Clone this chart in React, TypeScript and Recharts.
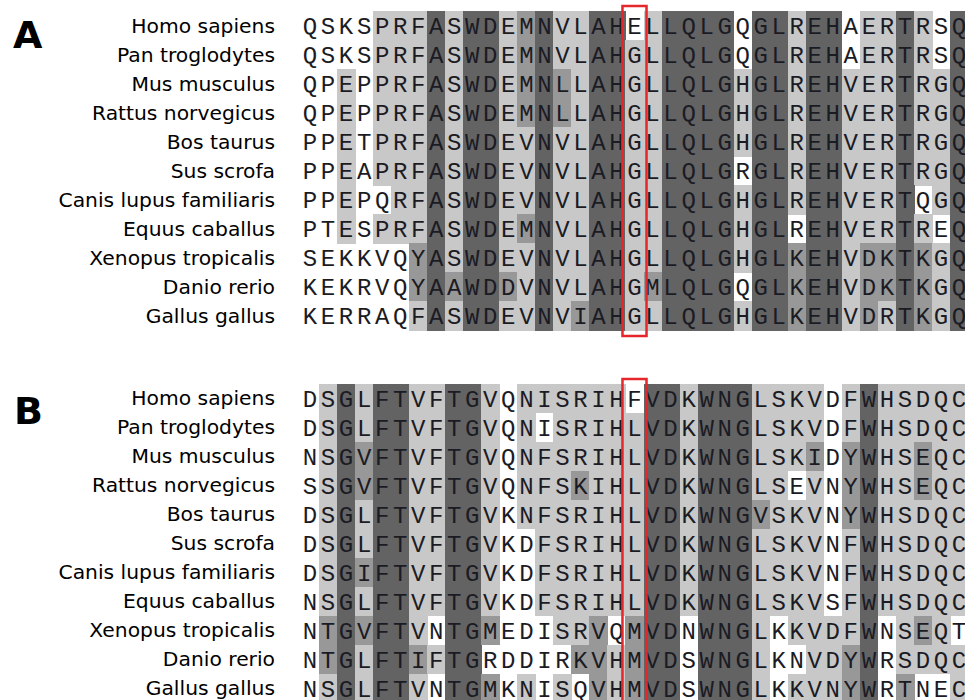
import React from 'react';
import { ScatterChart, Scatter, XAxis, YAxis } from 'recharts';

const SPECIES = [
  'Homo sapiens',
  'Pan troglodytes',
  'Mus musculus',
  'Rattus norvegicus',
  'Bos taurus',
  'Sus scrofa',
  'Canis lupus familiaris',
  'Equus caballus',
  'Xenopus tropicalis',
  'Danio rerio',
  'Gallus gallus',
];

const SEQ_A = [
  'QSKSPRFASWDEMNVLAHELLQLGQGLREHAERTRSQ',
  'QSKSPRFASWDEMNVLAHGLLQLGQGLREHAERTRSQ',
  'QPEPPRFASWDEMNLLAHGLLQLGHGLREHVERTRGQ',
  'QPEPPRFASWDEMNLLAHGLLQLGHGLREHVERTRGQ',
  'PPETPRFASWDEVNVLAHGLLQLGHGLREHVERTRGQ',
  'PPEAPRFASWDEVNVLAHGLLQLGRGLREHVERTRGQ',
  'PPEPQRFASWDEVNVLAHGLLQLGHGLREHVERTQGQ',
  'PTESPRFASWDEMNVLAHGLLQLGHGLREHVERTREQ',
  'SEKKVQYASWDEVNVLAHGLLQLGHGLKEHVDKTKGQ',
  'KEKRVQYAAWDDVNVLAHGMLQLGQGLKEHVDKTKGQ',
  'KERRAQFASWDEVNVIAHGLLQLGHGLKEHVDRTKGQ',
];

// conservation shading: 0 none, 1 light, 2 medium, 3 dark
const SHADE_A = [
  '0000111313' + '3123113301' + '3333033133' + '0113103',
  '0000111313' + '3123113311' + '3333033133' + '0113103',
  '0010111313' + '3123213311' + '3333133133' + '1113113',
  '0010111313' + '3123213311' + '3333133133' + '1113113',
  '0010111313' + '3113113311' + '3333133133' + '1113113',
  '0010111313' + '3113113311' + '3333033133' + '1113113',
  '0010011313' + '3113113311' + '3333133133' + '1113013',
  '0010111313' + '3123113311' + '3333133033' + '1113103',
  '0000002313' + '3113113311' + '3333133233' + '1223213',
  '0000002323' + '3213113312' + '3333033233' + '1223213',
  '0000001313' + '3113123311' + '3333133233' + '1213213',
];

const SEQ_B = [
  'DSGLFTVFTGVQNISRIHFVDKWNGLSKVDFWHSDQC',
  'DSGLFTVFTGVQNISRIHLVDKWNGLSKVDFWHSDQC',
  'NSGVFTVFTGVQNFSRIHLVDKWNGLSKIDYWHSEQC',
  'SSGVFTVFTGVQNFSKIHLVDKWNGLSEVNYWHSEQC',
  'DSGLFTVFTGVKNFSRIHLVDKWNGVSKVNYWHSDQC',
  'DSGLFTVFTGVKDFSRIHLVDKWNGLSKVNFWHSDQC',
  'DSGIFTVFTGVKDFSRIHLVDKWNGLSKVNFWHSDQC',
  'NSGLFTVFTGVKDFSRIHLVDKWNGLSKVSFWHSDQC',
  'NTGVFTVNTGMEDISRVQMVDNWNGLKKVDFWNSEQT',
  'NTGLFTIFTGRDDIRKVHMVDSWNGLKNVDYWRSDQC',
  'NSGLFTVNTGMKNISQVHMVDSWNGLKKVNYWRTNEC',
];

const SHADE_B = [
  '0131331133' + '1011111103' + '3133311110' + '1311111',
  '0131331133' + '1010111113' + '3133311110' + '1311111',
  '0132331133' + '1011111113' + '3133311120' + '2311211',
  '0132331133' + '1011121113' + '3133311010' + '2311211',
  '0131331133' + '1011111113' + '3133321110' + '2311111',
  '0131331133' + '1001111113' + '3133311110' + '1311111',
  '0132331133' + '1001111113' + '3133311110' + '1311111',
  '0131331133' + '1001111113' + '3133311110' + '1311111',
  '0232331033' + '2000112023' + '3033310111' + '1301210',
  '0231332133' + '0000022123' + '3033310011' + '2301111',
  '0131331033' + '2010102123' + '3033310111' + '2302001',
];

const MARKED_POSITION = 18;
const PANEL_LABELS = ['A', 'B'];

const SHADE_COLORS = ['#ffffff', '#c8c8c8', '#989898', '#636363'];
const CELL_W = 18.03;
const CELL_H = 29;

type Cell = { col: number; row: number; ch: string; level: number };

function buildCells(seqs: string[], shades: string[]): Cell[] {
  const out: Cell[] = [];
  seqs.forEach((s, row) => {
    s.split('').forEach((ch, col) => {
      out.push({ col, row, ch, level: Number(shades[row][col]) });
    });
  });
  return out;
}

const CellShape = (props: any) => {
  const { cx, cy, payload } = props;
  if (cx == null || cy == null || !payload) return <g />;
  const level = payload.level;
  return (
    <g>
      {level > 0 && (
        <rect
          x={cx - CELL_W / 2}
          y={cy - CELL_H / 2}
          width={CELL_W + 0.6}
          height={CELL_H + 0.6}
          fill={SHADE_COLORS[level]}
          shapeRendering="crispEdges"
        />
      )}
      <text
        x={cx}
        y={cy + 8.5}
        textAnchor="middle"
        fontFamily="'Liberation Mono', monospace"
        fontSize={24}
        fill="#1b1b24"
      >
        {payload.ch}
      </text>
    </g>
  );
};

// the highlight frame is anchored to the first row of the marked column
const makeRedBox = (extTop: number, extBottom: number) => (p: any) => {
  const { cx, cy } = p;
  if (cx == null || cy == null) return <g />;
  return (
    <rect
      x={cx - CELL_W / 2 - 3}
      y={cy - CELL_H / 2 - extTop}
      width={CELL_W + 6}
      height={CELL_H * SPECIES.length + extTop + extBottom}
      fill="none"
      stroke="#e5262a"
      strokeWidth={2.5}
    />
  );
};

const ROW_TICKS = SPECIES.map((_, i) => i);

function Panel({
  cells,
  height,
  marginTop,
  marginBottom,
  boxTop,
  boxBottom,
}: {
  cells: Cell[];
  height: number;
  marginTop: number;
  marginBottom: number;
  boxTop: number;
  boxBottom: number;
}) {
  const marker = [{ col: MARKED_POSITION, row: 0 }];
  return (
    <ScatterChart
      width={968}
      height={height}
      margin={{ top: marginTop, right: 0, bottom: marginBottom, left: 0 }}
    >
      <XAxis
        type="number"
        dataKey="col"
        domain={[-0.5, 36.5]}
        hide
        allowDataOverflow
      />
      <YAxis
        type="number"
        dataKey="row"
        domain={[-0.5, SPECIES.length - 0.5]}
        ticks={ROW_TICKS}
        reversed
        width={301}
        axisLine={false}
        tickLine={false}
        tickSize={0}
        tickMargin={26}
        interval={0}
        tickFormatter={(v: number) => SPECIES[v] ?? ''}
        tick={{
          fontFamily: "'DejaVu Sans', sans-serif",
          fontSize: 20.3,
          fill: '#000',
        }}
      />
      <Scatter data={cells} shape={CellShape} isAnimationActive={false} />
      <Scatter
        data={marker}
        shape={makeRedBox(boxTop, boxBottom)}
        isAnimationActive={false}
      />
    </ScatterChart>
  );
}

export default function App() {
  const cellsA = buildCells(SEQ_A, SHADE_A);
  const cellsB = buildCells(SEQ_B, SHADE_B);
  return (
    <div
      style={{
        position: 'relative',
        width: 965,
        height: 700,
        overflow: 'hidden',
        background: '#fff',
      }}
    >
      <style>{'body{margin:0;}'}</style>
      <div style={{ position: 'absolute', left: 0, top: 0 }}>
        <Panel
          cells={cellsA}
          height={345}
          marginTop={11}
          marginBottom={15}
          boxTop={5}
          boxBottom={6}
        />
      </div>
      <div style={{ position: 'absolute', left: 0, top: 345 }}>
        <Panel
          cells={cellsB}
          height={363}
          marginTop={38.5}
          marginBottom={5.5}
          boxTop={4.5}
          boxBottom={20}
        />
      </div>
      <svg
        width={965}
        height={700}
        style={{ position: 'absolute', left: 0, top: 0, pointerEvents: 'none' }}
      >
        <text
          x={13}
          y={48}
          fontFamily="'DejaVu Sans', sans-serif"
          fontWeight="bold"
          fontSize={38}
          fill="#000"
        >
          {PANEL_LABELS[0]}
        </text>
        <text
          x={14}
          y={424}
          fontFamily="'DejaVu Sans', sans-serif"
          fontWeight="bold"
          fontSize={38}
          fill="#000"
        >
          {PANEL_LABELS[1]}
        </text>
      </svg>
    </div>
  );
}
